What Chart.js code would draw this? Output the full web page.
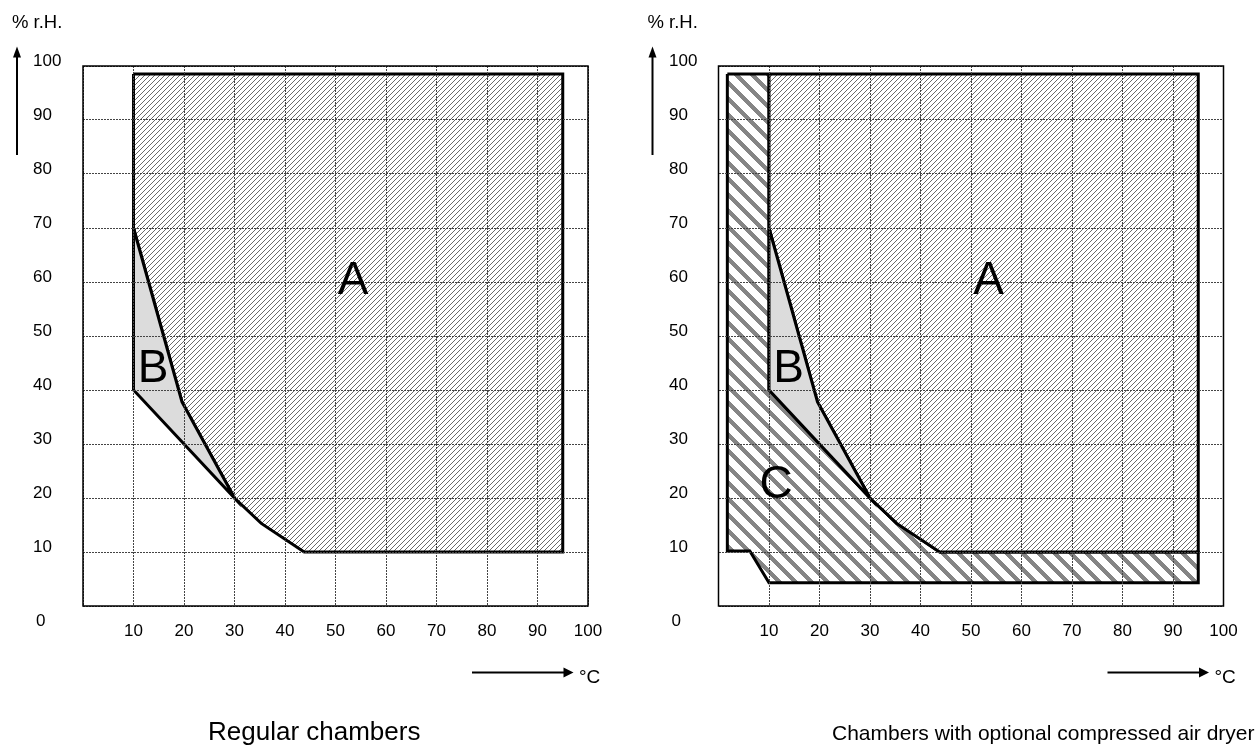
<!DOCTYPE html>
<html>
<head>
<meta charset="utf-8">
<title>Climate chamber operating ranges</title>
<script src="https://cdn.jsdelivr.net/npm/chart.js@4.4.1/dist/chart.umd.min.js"></script>
<style>
  html, body { margin: 0; padding: 0; background: #fff; overflow: hidden; }
  canvas { position: absolute; top: 0; }
  #regularChart { left: 0; }
  #dryerChart { left: 627px; }
</style>
</head>
<body>
<canvas id="regularChart" width="627" height="747"></canvas>
<canvas id="dryerChart" width="628" height="747"></canvas>
<script>
const tempTicks = [0, 10, 20, 30, 40, 50, 60, 70, 80, 90, 100];
const humidityTicks = [0, 10, 20, 30, 40, 50, 60, 70, 80, 90, 100];

// outlines of the ranges, x = °C, y = % r.H.
const rangeA = [
  { x: 10, y: 98.5 }, { x: 95, y: 98.5 }, { x: 95, y: 10 }, { x: 43.8, y: 10 },
  { x: 35.3, y: 15.3 }, { x: 30, y: 20 }, { x: 19.6, y: 37.8 }, { x: 10, y: 70 }, { x: 10, y: 98.5 }
];
const rangeB = [
  { x: 10, y: 70 }, { x: 19.6, y: 37.8 }, { x: 30, y: 20 }, { x: 10, y: 40 }, { x: 10, y: 70 }
];
const rangeC = [
  { x: 1.75, y: 98.5 }, { x: 10, y: 98.5 }, { x: 10, y: 40 }, { x: 30, y: 20 }, { x: 35.3, y: 15.3 },
  { x: 43.8, y: 10 }, { x: 95, y: 10 }, { x: 95, y: 4.3 }, { x: 10, y: 4.3 }, { x: 6.2, y: 10.2 },
  { x: 1.75, y: 10.2 }, { x: 1.75, y: 98.5 }
];

const regularLetters = [
  { text: 'A', x: 53.5, y: 60.8 },
  { text: 'B', x: 13.9, y: 44.5 }
];
const dryerLetters = [
  { text: 'A', x: 53.5, y: 60.8 },
  { text: 'B', x: 13.9, y: 44.5 },
  { text: 'C', x: 11.4, y: 23 }
];

const FONT = '"Liberation Sans", Arial, sans-serif';

function makePattern(size, paint) {
  const c = document.createElement('canvas');
  c.width = size; c.height = size;
  const g = c.getContext('2d');
  g.fillStyle = '#fff';
  g.fillRect(0, 0, size, size);
  paint(g, size);
  return g.createPattern(c, 'repeat');
}

// fine "/" hatch for range A
const hatchA = makePattern(5, (g, n) => {
  g.fillStyle = '#6a6a6a';
  for (let i = 0; i < n; i++) g.fillRect(i, n - 1 - i, 1, 1);
});

// wide "\" stripes for range C
const stripesC = makePattern(16, (g, n) => {
  g.fillStyle = '#858585';
  for (let y = 0; y < n; y++)
    for (let x = 0; x < n; x++)
      if ((((x - y) % n) + n) % n < 6) g.fillRect(x, y, 1, 1);
});

function region(data, fill, order) {
  return {
    data, order,
    backgroundColor: fill, borderColor: '#000', borderWidth: 3,
    borderJoinStyle: 'miter', fill: 'shape', tension: 0,
    pointRadius: 0, pointHoverRadius: 0
  };
}

function arrowHead(ctx, tx, ty, dx, dy, len, half) {
  // tip at (tx,ty), pointing in direction (dx,dy)
  ctx.beginPath();
  ctx.moveTo(tx, ty);
  ctx.lineTo(tx - dx * len - dy * half, ty - dy * len + dx * half);
  ctx.lineTo(tx - dx * len + dy * half, ty - dy * len - dx * half);
  ctx.closePath();
  ctx.fill();
}

const decorations = {
  id: 'decorations',
  afterDraw(chart, args, opts) {
    const { ctx, chartArea: a, scales: { x, y } } = chart;
    ctx.save();
    ctx.strokeStyle = '#000';
    ctx.fillStyle = '#000';

    // plot frame
    ctx.lineWidth = 1.5;
    ctx.strokeRect(a.left, a.top, a.right - a.left, a.bottom - a.top);

    // "0" in the corner
    ctx.font = '17px ' + FONT;
    ctx.textAlign = 'left';
    ctx.textBaseline = 'middle';
    ctx.fillText('0', a.left - 47, a.bottom + 15);

    // y axis arrow and unit
    const ax = a.left - 66;
    ctx.lineWidth = 2;
    ctx.beginPath(); ctx.moveTo(ax, 155); ctx.lineTo(ax, 56); ctx.stroke();
    arrowHead(ctx, ax, 46.5, 0, -1, 11, 4);
    ctx.font = '18.5px ' + FONT;
    ctx.fillText('% r.H.', a.left - 71, 23);

    // x axis arrow and unit
    const ay = 672.5;
    ctx.beginPath(); ctx.moveTo(a.right - 116, ay); ctx.lineTo(a.right - 24, ay); ctx.stroke();
    arrowHead(ctx, a.right - 14.5, ay, 1, 0, 10, 5);
    ctx.font = '19px ' + FONT;
    ctx.textBaseline = 'alphabetic';
    ctx.fillText('°C', a.right - 9, 683);

    // range letters
    ctx.font = '46px ' + FONT;
    ctx.textAlign = 'center';
    for (const l of opts.letters) {
      ctx.fillText(l.text, x.getPixelForValue(l.x), y.getPixelForValue(l.y) + 46 * 0.716 / 2);
    }

    // caption
    ctx.font = opts.titleSize + 'px ' + FONT;
    ctx.textAlign = 'left';
    ctx.fillText(opts.title, opts.titleX, 740);
    ctx.restore();
  }
};

function makeChart(id, datasets, pad, plot) {
  return new Chart(document.getElementById(id), {
    type: 'line',
    data: { datasets },
    plugins: [decorations],
    options: {
      responsive: false, animation: false, events: [],
      layout: { padding: { left: pad.left, top: 66, right: pad.right, bottom: 101 } },
      plugins: { legend: { display: false }, tooltip: { enabled: false }, decorations: plot },
      scales: {
        x: {
          type: 'linear', min: 0, max: 100,
          afterBuildTicks: s => { s.ticks = tempTicks.map(v => ({ value: v })); },
          afterFit: s => { s.height = 40; },
          ticks: { color: '#000', font: { family: FONT, size: 17 }, padding: 15,
                   callback: v => (v === 0 ? '' : v) },
          grid: { color: '#444', lineWidth: 1, drawTicks: false, z: 1 },
          border: { display: false, dash: [2, 1] }
        },
        y: {
          type: 'linear', min: 0, max: 100,
          afterBuildTicks: s => { s.ticks = humidityTicks.map(v => ({ value: v })); },
          afterFit: s => { s.width = pad.axis; },
          ticks: { color: '#000', font: { family: FONT, size: 17 }, crossAlign: 'far', labelOffset: -5,
                   callback: v => (v === 0 ? '' : v) },
          grid: { color: '#444', lineWidth: 1, drawTicks: false, z: 1 },
          border: { display: false, dash: [2, 1] }
        }
      }
    }
  });
}

makeChart('regularChart', [
  region(rangeB, '#dcdcdc', 1),
  region(rangeA, hatchA, 2)
], { left: 33, right: 39, axis: 50 },
{ letters: regularLetters, title: 'Regular chambers', titleX: 208, titleSize: 26 });

makeChart('dryerChart', [
  region(rangeB, '#dcdcdc', 1),
  region(rangeA, hatchA, 2),
  region(rangeC, stripesC, 3)
], { left: 42, right: 31.5, axis: 49.5 },
{ letters: dryerLetters, title: 'Chambers with optional compressed air dryer', titleX: 205, titleSize: 21 });
</script>
</body>
</html>
